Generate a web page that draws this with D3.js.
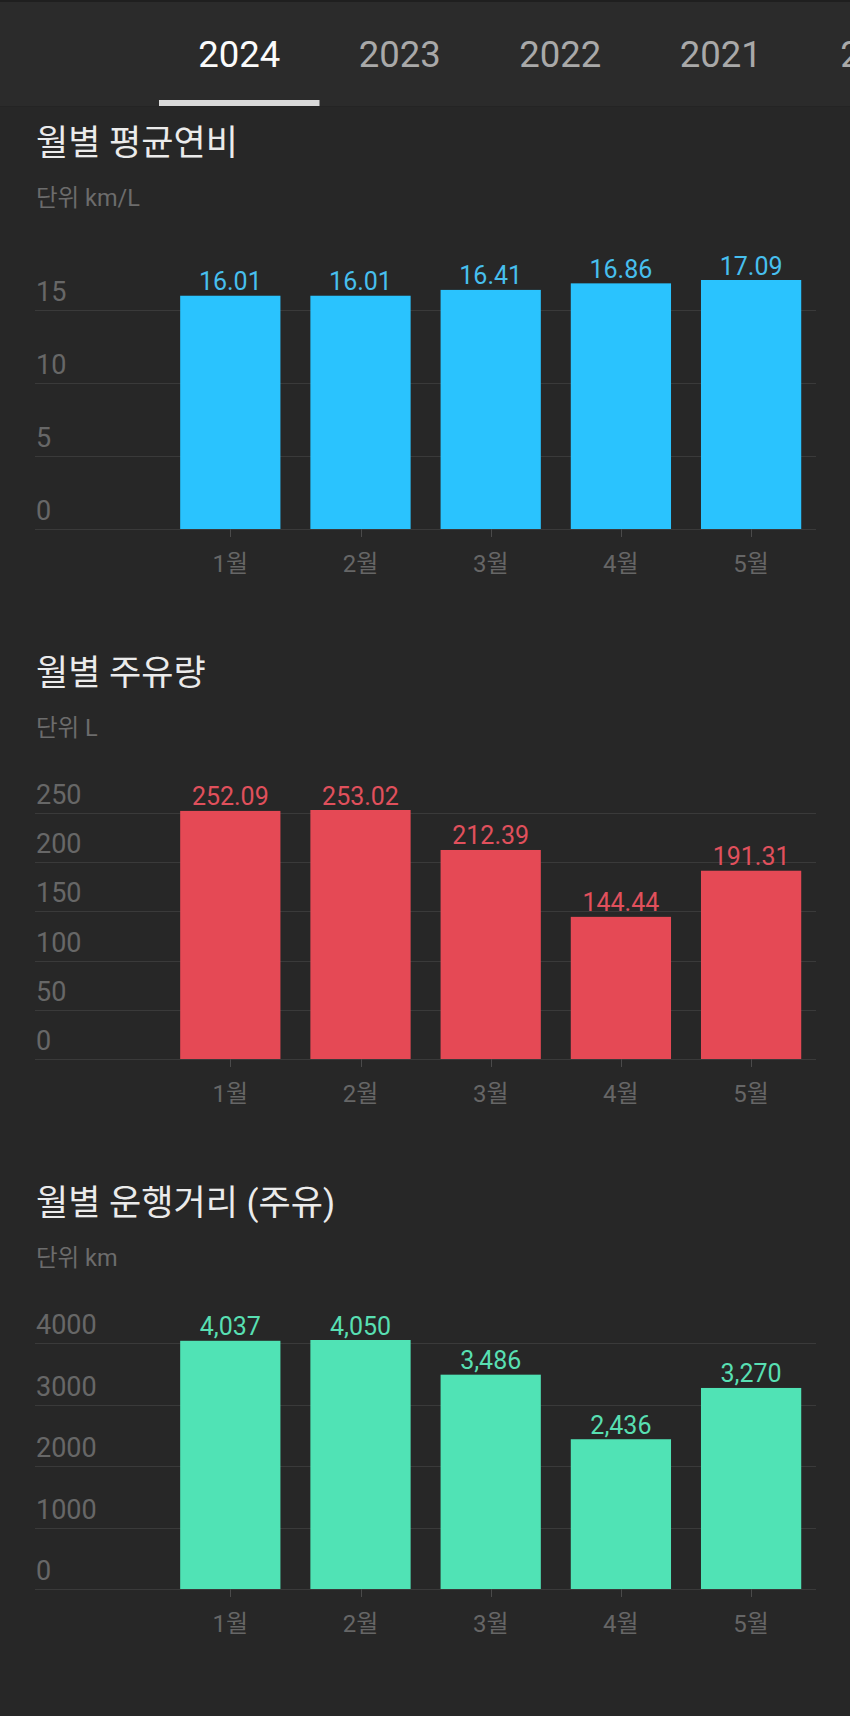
<!DOCTYPE html>
<html lang="ko">
<head>
<meta charset="utf-8">
<script src="https://cdn.jsdelivr.net/npm/d3@7"></script>
<style>
  html, body { margin: 0; padding: 0; background: #272727; }
  svg { display: block; }
  text { font-family: Roboto, "Noto Sans CJK KR", sans-serif; }
</style>
</head>
<body>
<svg id="chart" width="850" height="1716"></svg>
<script>
// ---------- data ----------
const years = ["2024", "2023", "2022", "2021", "2020"];
const months = ["1월", "2월", "3월", "4월", "5월"];
const efficiency = [16.01, 16.01, 16.41, 16.86, 17.09];
const fuel = [252.09, 253.02, 212.39, 144.44, 191.31];
const distance = [4037, 4050, 3486, 2436, 3270];
const efficiencyTicks = [0, 5, 10, 15];
const fuelTicks = [0, 50, 100, 150, 200, 250];
const distanceTicks = [0, 1000, 2000, 3000, 4000];
const chartTitles = ["월별 평균연비", "월별 주유량", "월별 운행거리 (주유)"];
const chartUnits = ["단위 km/L", "단위 L", "단위 km"];

const charts = [
  { title: chartTitles[0], unit: chartUnits[0], values: efficiency, ticks: efficiencyTicks,
    fmt: d3.format(".2f"), bar: "#2ac3fe", label: "#47bfee" },
  { title: chartTitles[1], unit: chartUnits[1], values: fuel, ticks: fuelTicks,
    fmt: d3.format(".2f"), bar: "#e54955", label: "#e0505c" },
  { title: chartTitles[2], unit: chartUnits[2], values: distance, ticks: distanceTicks,
    fmt: d3.format(","), bar: "#50e3b5", label: "#58dfb2" }
];

const svg = d3.select("#chart");

// ---------- tab bar ----------
svg.append("rect").attr("x", 0).attr("y", 0).attr("width", 850).attr("height", 107).attr("fill", "#2b2b2b");
svg.append("rect").attr("x", 0).attr("y", 0).attr("width", 850).attr("height", 2).attr("fill", "#1f1f1f");
svg.append("rect").attr("x", 0).attr("y", 106).attr("width", 850).attr("height", 1).attr("fill", "#242424");

const tabX = d3.scaleBand().domain(years).range([159, 159 + 160.5 * years.length]);
svg.append("g").selectAll("text").data(years).join("text")
  .attr("x", d => tabX(d) + tabX.bandwidth() / 2)
  .attr("y", 66.5)
  .attr("text-anchor", "middle")
  .attr("font-size", 36.5)
  .attr("fill", (d, i) => i === 0 ? "#fbfbfb" : "#a9a9a9")
  .text(d => d);
svg.append("rect")
  .attr("x", tabX(years[0])).attr("y", 100)
  .attr("width", tabX.bandwidth()).attr("height", 6)
  .attr("fill", "#d9d9d9");

// ---------- charts ----------
const sectionGap = 530;
const plotHeight = 249;
const x = d3.scaleBand().domain(months).range([165.2, 816.2]).paddingInner(0.23).paddingOuter(0.115);

charts.forEach((c, k) => {
  const off = k * sectionGap;
  const base = 529 + off;
  const g = svg.append("g");

  // title and unit
  g.append("text")
    .attr("x", 36).attr("y", 155 + off)
    .attr("font-size", 35)
    .attr("fill", "#ebebeb")
    .text(c.title);
  g.append("text")
    .attr("x", 36).attr("y", 205.5 + off)
    .attr("font-size", 23.5)
    .attr("fill", "#6c6c6c")
    .text(c.unit);

  const y = d3.scaleLinear().domain([0, d3.max(c.values)]).range([base, base - plotHeight]);

  // gridlines + y labels
  const grid = g.append("g");
  grid.selectAll("line").data(c.ticks).join("line")
    .attr("x1", 35).attr("x2", 816)
    .attr("y1", d => Math.round(y(d)) + 0.5).attr("y2", d => Math.round(y(d)) + 0.5)
    .attr("stroke", "#3a3a3a").attr("stroke-width", 1);
  grid.selectAll("text").data(c.ticks).join("text")
    .attr("x", 36).attr("y", d => y(d) - 9)
    .attr("font-size", 27)
    .attr("fill", "#676767")
    .text(d => d);

  // bars
  g.append("g").selectAll("rect").data(c.values).join("rect")
    .attr("x", (d, i) => x(months[i]))
    .attr("y", d => y(d))
    .attr("width", x.bandwidth())
    .attr("height", d => base - y(d))
    .attr("fill", c.bar);

  // value labels
  g.append("g").selectAll("text").data(c.values).join("text")
    .attr("x", (d, i) => x(months[i]) + x.bandwidth() / 2)
    .attr("y", d => y(d) - 5.5)
    .attr("text-anchor", "middle")
    .attr("font-size", 25)
    .attr("fill", c.label)
    .text(d => c.fmt(d));

  // x axis ticks + labels
  const ax = g.append("g");
  ax.selectAll("line").data(months).join("line")
    .attr("x1", d => Math.round(x(d) + x.bandwidth() / 2) + 0.5)
    .attr("x2", d => Math.round(x(d) + x.bandwidth() / 2) + 0.5)
    .attr("y1", base).attr("y2", base + 8)
    .attr("stroke", "#4a4a4a").attr("stroke-width", 1);
  ax.selectAll("text").data(months).join("text")
    .attr("x", d => x(d) + x.bandwidth() / 2)
    .attr("y", base + 43)
    .attr("text-anchor", "middle")
    .attr("font-size", 24)
    .attr("fill", "#666666")
    .text(d => d);
});
</script>
</body>
</html>
